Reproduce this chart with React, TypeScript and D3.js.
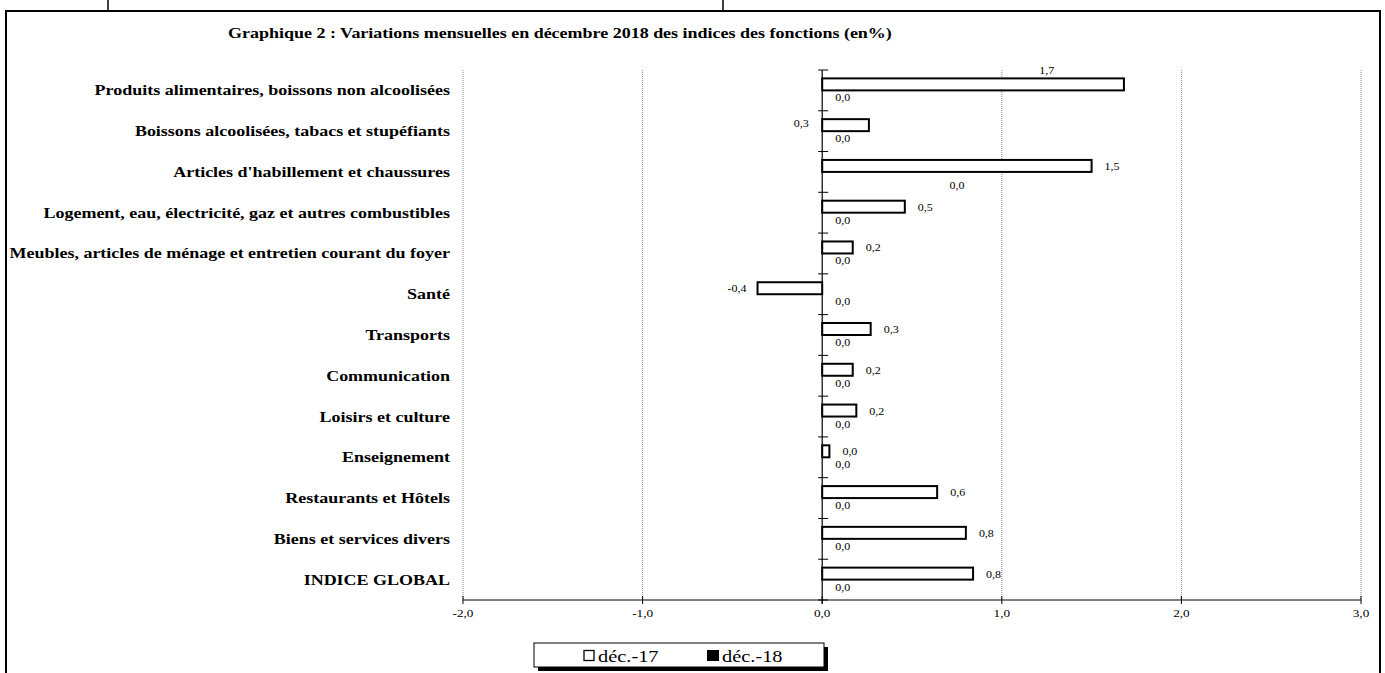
import React, { useEffect, useRef } from 'react';
import * as d3 from 'd3';

const categories = [
  'Produits alimentaires, boissons non alcoolisées',
  'Boissons alcoolisées, tabacs et stupéfiants',
  "Articles d'habillement et chaussures ",
  'Logement, eau, électricité, gaz et autres combustibles',
  'Meubles, articles de ménage et entretien courant du foyer',
  'Santé',
  'Transports',
  'Communication',
  'Loisirs et culture',
  'Enseignement',
  'Restaurants et Hôtels',
  'Biens et services divers',
  'INDICE GLOBAL',
];

const dec17 = [1.68, 0.26, 1.5, 0.46, 0.17, -0.36, 0.27, 0.17, 0.19, 0.04, 0.64, 0.8, 0.84];
const dec18 = [0, 0, 0, 0, 0, 0, 0, 0, 0, 0, 0, 0, 0];
const seriesNames = ['déc.-17', 'déc.-18'];
const xTicks = [-2, -1, 0, 1, 2, 3];

const TITLE = 'Graphique 2 : Variations mensuelles en décembre 2018 des indices des fonctions (en%)';
const FONT = "'Liberation Serif', 'Times New Roman', serif";
// the original export is stretched sideways, so text gets a horizontal scale
const SX = 1.2;

const fmt = (v: number) => d3.format('.1f')(v).replace('.', ',').replace('−', '-');

type Sel = d3.Selection<any, unknown, null, undefined>;

const txt = (p: Sel, x: number, y: number, s: string, size: number, anchor = 'start', weight = 'normal', sx = SX) =>
  p.append('text')
    .attr('transform', `translate(${x},${y}) scale(${sx},1)`)
    .attr('text-anchor', anchor)
    .attr('font-size', size)
    .attr('font-weight', weight)
    .text(s);

const App: React.FC = () => {
  const svgRef = useRef<SVGSVGElement>(null);

  useEffect(() => {
    if (!svgRef.current) return;
    const svg = d3.select(svgRef.current) as unknown as Sel;
    svg.selectAll('*').remove();
    svg.attr('font-family', FONT);

    // outer frame + bits of the table above
    svg.append('rect').attr('x', 6).attr('y', 11).attr('width', 1374).attr('height', 670)
      .attr('fill', 'none').attr('stroke', '#000').attr('stroke-width', 2);
    [108, 723].forEach(x => {
      svg.append('line').attr('x1', x).attr('x2', x).attr('y1', 0).attr('y2', 11)
        .attr('stroke', '#000').attr('stroke-width', 1.5);
    });

    txt(svg, 228, 38, TITLE, 15, 'start', 'bold');

    const x = d3.scaleLinear().domain([-2, 3]).range([463, 1361]);
    const y = d3.scaleBand<string>().domain(categories).range([70, 600]);
    const sub = d3.scaleBand<string>().domain(seriesNames).range([0, y.bandwidth()]).paddingOuter(0.7);
    const x0 = x(0);

    // gridlines
    xTicks.filter(t => t !== 0).forEach(t => {
      svg.append('line').attr('x1', x(t)).attr('x2', x(t)).attr('y1', 70).attr('y2', 600)
        .attr('stroke', '#888').attr('stroke-width', 1).attr('stroke-dasharray', '1,1');
    });

    // x axis
    svg.append('line').attr('x1', x(-2)).attr('x2', x(3)).attr('y1', 600).attr('y2', 600)
      .attr('stroke', '#000').attr('stroke-width', 1);
    xTicks.forEach(t => {
      svg.append('line').attr('x1', x(t)).attr('x2', x(t)).attr('y1', 596).attr('y2', 604)
        .attr('stroke', '#000');
      txt(svg, x(t), 617, fmt(t), 11, 'middle');
    });

    // y axis
    svg.append('line').attr('x1', x0).attr('x2', x0).attr('y1', 70).attr('y2', 604)
      .attr('stroke', '#000').attr('stroke-width', 1.2);
    d3.range(categories.length + 1).forEach(i => {
      const yy = 70 + i * y.bandwidth();
      svg.append('line').attr('x1', x0 - 4).attr('x2', x0 + 6).attr('y1', yy).attr('y2', yy)
        .attr('stroke', '#000');
    });

    // category labels
    categories.forEach(c => {
      txt(svg, 450, (y(c) as number) + y.bandwidth() / 2 + 5, c, 15, 'end', 'bold');
    });

    const series = [dec17, dec18];
    series.forEach((vals, si) => {
      const fill = si === 0 ? '#fff' : '#000';
      vals.forEach((v, i) => {
        const c = categories[i];
        const by = (y(c) as number) + (sub(seriesNames[si]) as number);
        const bh = sub.bandwidth();
        svg.append('rect')
          .attr('x', Math.min(x(v), x0)).attr('y', by)
          .attr('width', Math.abs(x(v) - x0)).attr('height', bh)
          .attr('fill', fill).attr('stroke', '#000').attr('stroke-width', v === 0 ? 0 : 2);

        let lx = v < 0 ? x(v) - 11 : x(v) + 13;
        let ly = by + bh / 2 + 4;
        let anchor = v < 0 ? 'end' : 'start';
        if (si === 1) {
          lx = x0 + 13;
          ly = by + bh / 2 + 5;
          anchor = 'start';
          if (i === 2) { lx = x(0.75); ly = by + bh / 2 + 11; anchor = 'middle'; }
        } else {
          if (i === 0) { lx = x(1.25); ly = by - 4; anchor = 'middle'; }
          if (i === 1) { lx = x0 - 21; ly = by + 8; anchor = 'middle'; }
        }
        txt(svg, lx, ly, fmt(v), 10, anchor);
      });
    });

    // legend
    const lg = svg.append('g');
    lg.append('rect').attr('x', 538).attr('y', 647).attr('width', 290).attr('height', 24).attr('fill', '#000');
    lg.append('rect').attr('x', 534).attr('y', 643).attr('width', 290).attr('height', 24)
      .attr('fill', '#fff').attr('stroke', '#000').attr('stroke-width', 1);
    lg.append('rect').attr('x', 584).attr('y', 650.5).attr('width', 10).attr('height', 10)
      .attr('fill', '#fff').attr('stroke', '#000').attr('stroke-width', 1.3);
    txt(lg, 598, 662, seriesNames[0], 17);
    lg.append('rect').attr('x', 707).attr('y', 650).attr('width', 12).attr('height', 11).attr('fill', '#000');
    txt(lg, 722, 662, seriesNames[1], 17);
  }, []);

  return (
    <svg ref={svgRef} width={1385} height={673}
      style={{ position: 'absolute', left: 0, top: 0, background: '#fff' }} />
  );
};

export default App;
